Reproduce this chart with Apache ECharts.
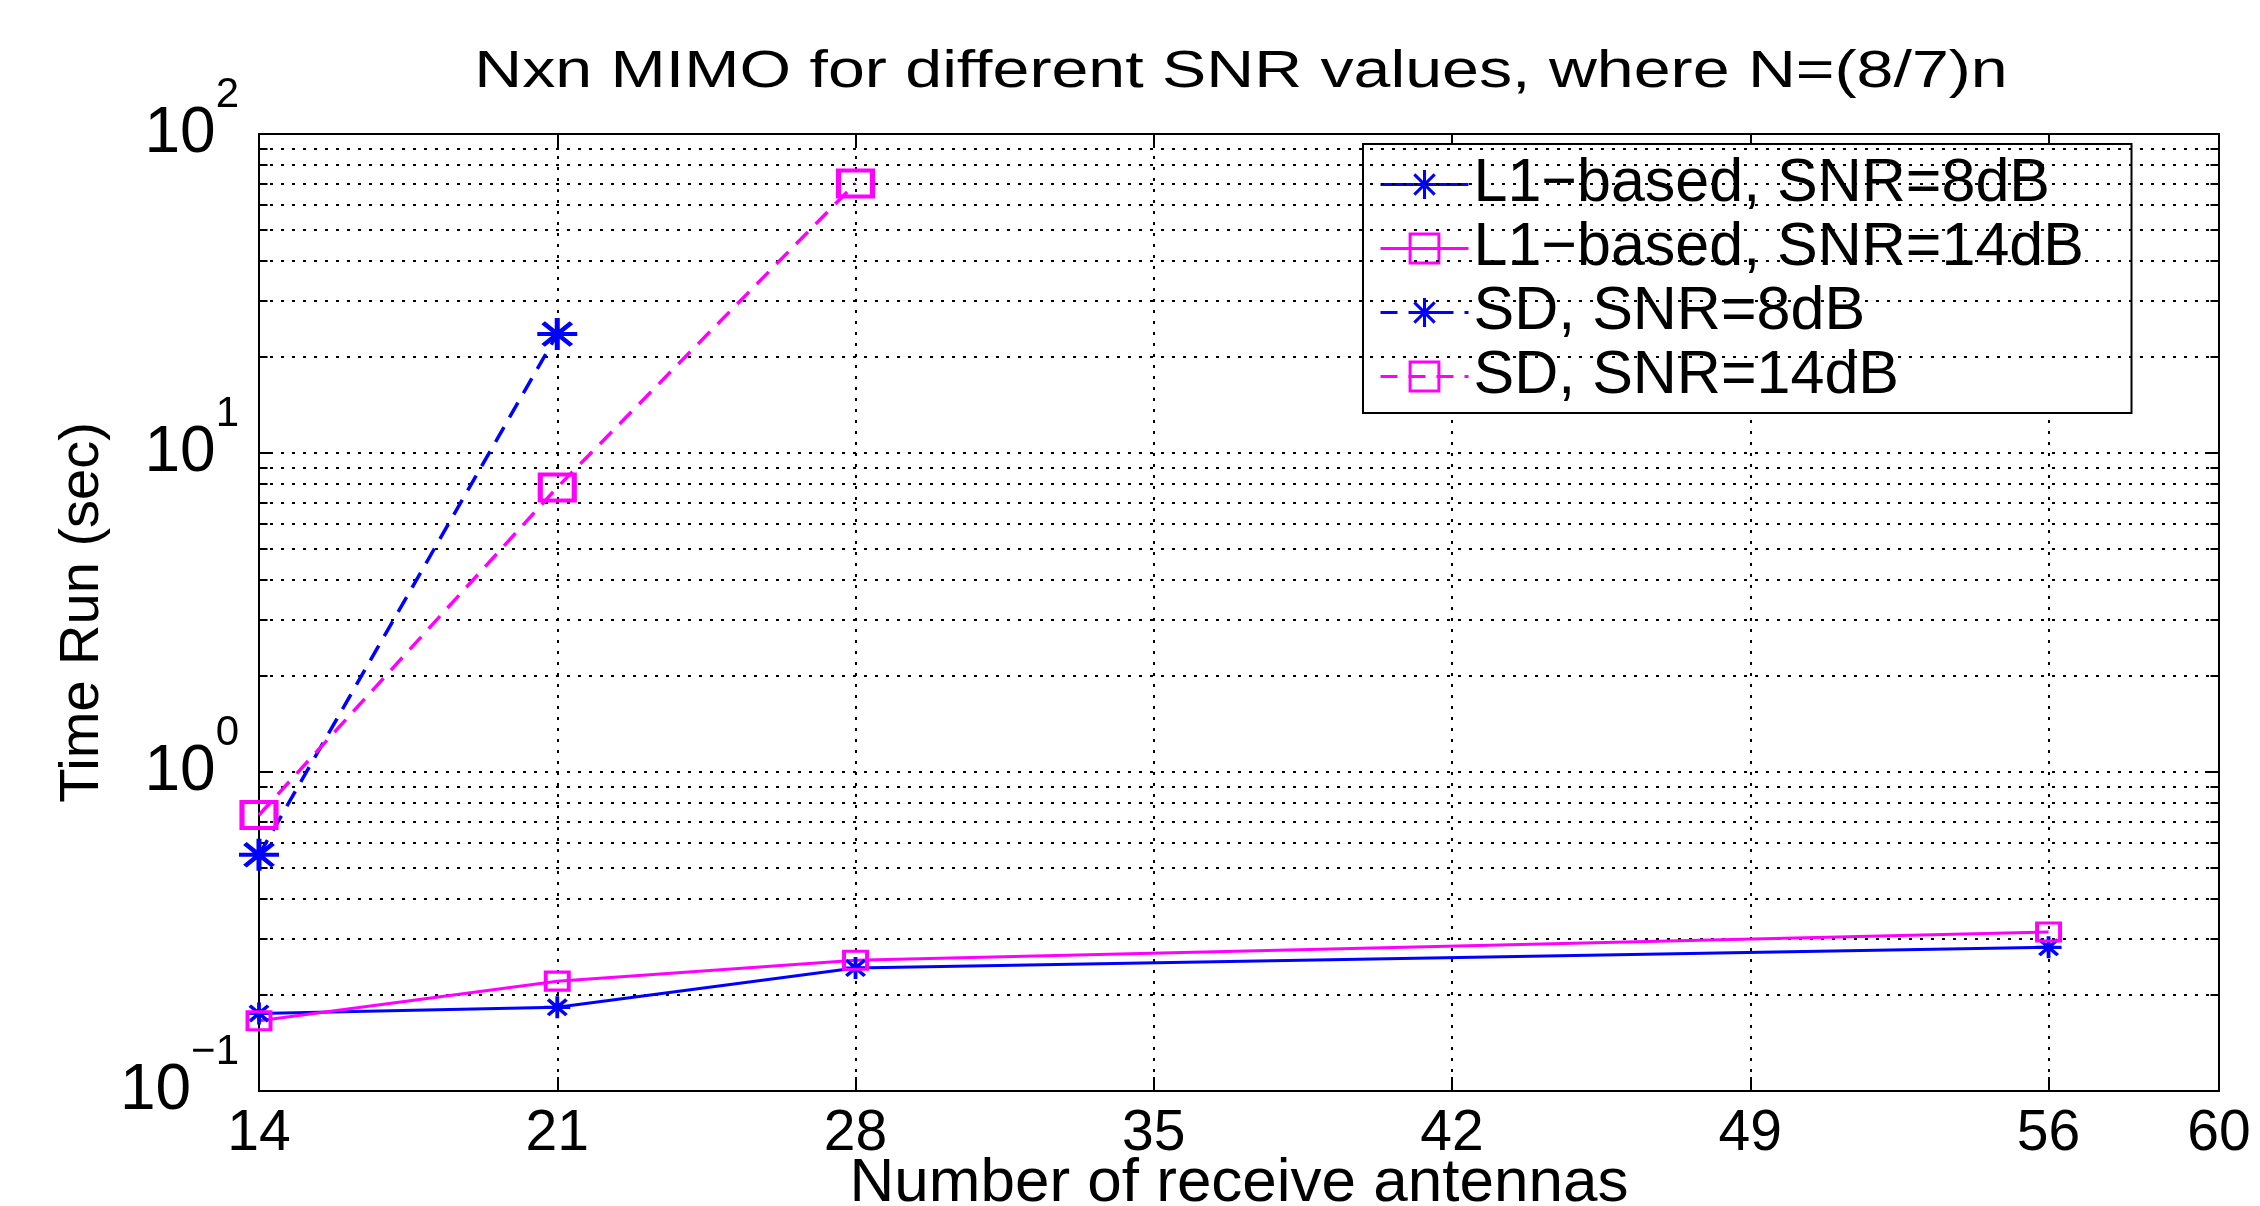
<!DOCTYPE html>
<html>
<head>
<meta charset="utf-8">
<script src="https://cdn.jsdelivr.net/npm/echarts@6/dist/echarts.min.js"></script>
<style>html,body{margin:0;padding:0;background:#fff}#c{width:2260px;height:1206px}</style>
</head>
<body>
<div id="c"></div>
<script>
// ---- data ----
const titleText = 'Nxn MIMO for different SNR values, where N=(8/7)n';
const xAxisName = 'Number of receive antennas';
const yAxisName = 'Time Run (sec)';
const seriesNames = ['L1\u2212based, SNR=8dB', 'L1\u2212based, SNR=14dB', 'SD, SNR=8dB', 'SD, SNR=14dB'];
const l1Antennas = [14, 21, 28, 56];
const l1Snr8 = [0.175, 0.183, 0.243, 0.282];
const l1Snr14 = [0.166, 0.221, 0.257, 0.315];
const sdSnr8Antennas = [14, 21];
const sdSnr8 = [0.55, 23.6];
const sdSnr14Antennas = [14, 21, 28];
const sdSnr14 = [0.733, 7.8, 70];
const xTicks = [14, 21, 28, 35, 42, 49, 56, 60];
const yDecades = [0.1, 1, 10, 100];
const yMinorGrid = [0.2, 0.3, 0.4, 0.5, 0.6, 0.7, 0.8, 0.9, 2, 3, 4, 5, 6, 7, 8, 9, 20, 30, 40, 50, 60, 70, 80, 90];

// ---- chart ----
const F = '"Liberation Sans", Arial, Helvetica, sans-serif';
const blue = '#0000ff', magenta = '#ff00ff';
const asterisk = 'path://M10 0L10 20M0 10L20 10M2.93 2.93L17.07 17.07M2.93 17.07L17.07 2.93';
const pairs = (xs, ys) => xs.map((x, i) => [x, ys[i]]);
const xMin = xTicks[0], xMax = xTicks[xTicks.length - 1], xStep = xTicks[1] - xTicks[0];
const yMin = yDecades[0], yMax = yDecades[yDecades.length - 1];
const gridLine = {color: '#000', width: 2, type: [3, 8]};
const axisLineStyle = {color: '#000', width: 2};
const minorTickLen = 0.2;

const minorGridData = yMinorGrid.map(v => ({yAxis: v}));
const minorTickData = [];
yMinorGrid.forEach(v => {
  minorTickData.push([{coord: [xMin, v]}, {coord: [xMin + minorTickLen, v]}]);
  minorTickData.push([{coord: [xMax - minorTickLen, v]}, {coord: [xMax, v]}]);
});

const chart = echarts.init(document.getElementById('c'), null, {renderer: 'canvas', width: 2260, height: 1206});
chart.setOption({
  animation: false,
  backgroundColor: '#fff',
  graphic: [{
    type: 'text', x: 1241, y: 73, scaleX: 1.3,
    style: {text: titleText, fontSize: 51, fontFamily: F, fill: '#000', align: 'center', verticalAlign: 'middle'}
  }],
  grid: {left: 259, top: 134, right: 41, bottom: 115, show: true, borderColor: '#000', borderWidth: 2,
         containLabel: false, outerBoundsMode: 'none'},
  legend: {
    orient: 'vertical', left: 1363, top: 144, padding: [10, 8, 6, 16],
    itemWidth: 88, itemHeight: 36, itemGap: 3,
    backgroundColor: '#fff', borderColor: '#000', borderWidth: 2, borderRadius: 0,
    selectedMode: false,
    lineStyle: {width: 3},
    itemStyle: {borderWidth: 3},
    textStyle: {fontFamily: F, fontSize: 61, lineHeight: 60, color: '#000', width: 650},
    data: seriesNames
  },
  xAxis: [{
    type: 'value', min: xMin, max: xMax, interval: xStep, position: 'bottom',
    name: xAxisName, nameLocation: 'middle', nameGap: 62, nameMoveOverlap: false,
    nameTextStyle: {fontFamily: F, fontSize: 62, color: '#000'},
    axisLine: {show: true, onZero: false, lineStyle: axisLineStyle},
    axisTick: {show: true, inside: true, length: 14, lineStyle: axisLineStyle},
    axisLabel: {fontFamily: F, fontSize: 57, color: '#000', margin: 15},
    splitLine: {show: true, lineStyle: gridLine}
  }, {
    type: 'value', min: xMin, max: xMax, interval: xStep, position: 'top',
    axisLine: {show: true, onZero: false, lineStyle: axisLineStyle},
    axisTick: {show: true, inside: true, length: 14, lineStyle: axisLineStyle},
    axisLabel: {show: false}, splitLine: {show: false}
  }],
  yAxis: [{
    type: 'log', logBase: 10, min: yMin, max: yMax, position: 'left',
    name: yAxisName, nameLocation: 'middle', nameGap: 148, nameRotate: 90, nameMoveOverlap: false,
    nameTextStyle: {fontFamily: F, fontSize: 56, color: '#000'},
    axisLine: {show: true, onZero: false, lineStyle: axisLineStyle},
    axisTick: {show: true, inside: true, length: 14, lineStyle: axisLineStyle},
    axisLabel: {
      margin: 20,
      formatter: v => {
        const e = Math.round(Math.log10(v));
        return '{b|10}{e|' + (e < 0 ? '\u2212' + (-e) : e) + '}';
      },
      rich: {
        b: {fontFamily: F, fontSize: 64, lineHeight: 64, color: '#000', padding: [30, 0, 30, 0]},
        e: {fontFamily: F, fontSize: 42, lineHeight: 42, color: '#000', padding: [2, 0, 80, 0]}
      }
    },
    splitLine: {show: true, lineStyle: gridLine}
  }, {
    type: 'log', logBase: 10, min: yMin, max: yMax, position: 'right',
    axisLine: {show: true, onZero: false, lineStyle: axisLineStyle},
    axisTick: {show: true, inside: true, length: 14, lineStyle: axisLineStyle},
    axisLabel: {show: false}, splitLine: {show: false}
  }],
  series: [
    {
      type: 'line', data: [], silent: true, z: 1,
      markLine: {silent: true, animation: false, symbol: ['none', 'none'], label: {show: false},
                 lineStyle: gridLine, emphasis: {disabled: true}, data: minorGridData}
    },
    {
      type: 'line', data: [], silent: true, z: 1,
      markLine: {silent: true, animation: false, symbol: ['none', 'none'], label: {show: false},
                 lineStyle: {color: '#000', width: 2, type: 'solid'}, emphasis: {disabled: true}, data: minorTickData}
    },
    {
      name: seriesNames[0], type: 'line', data: pairs(l1Antennas, l1Snr8), clip: false, z: 5,
      symbol: asterisk, symbolSize: [26, 22],
      lineStyle: {color: blue, width: 3},
      itemStyle: {color: blue, borderColor: blue, borderWidth: 3.5}
    },
    {
      name: seriesNames[1], type: 'line', data: pairs(l1Antennas, l1Snr14), clip: false, z: 5,
      symbol: 'rect', symbolSize: [23, 18],
      lineStyle: {color: magenta, width: 3},
      itemStyle: {color: 'rgba(0,0,0,0)', borderColor: magenta, borderWidth: 3.5}
    },
    {
      name: seriesNames[2], type: 'line', data: pairs(sdSnr8Antennas, sdSnr8), clip: false, z: 5,
      symbol: asterisk, symbolSize: [40, 32],
      lineStyle: {color: blue, width: 3.5, type: [17, 11]},
      itemStyle: {color: blue, borderColor: blue, borderWidth: 4.5}
    },
    {
      name: seriesNames[3], type: 'line', data: pairs(sdSnr14Antennas, sdSnr14), clip: false, z: 5,
      symbol: 'rect', symbolSize: [34, 26],
      lineStyle: {color: magenta, width: 3.5, type: [17, 11]},
      itemStyle: {color: 'rgba(0,0,0,0)', borderColor: magenta, borderWidth: 4.5}
    }
  ]
});
</script>
</body>
</html>
